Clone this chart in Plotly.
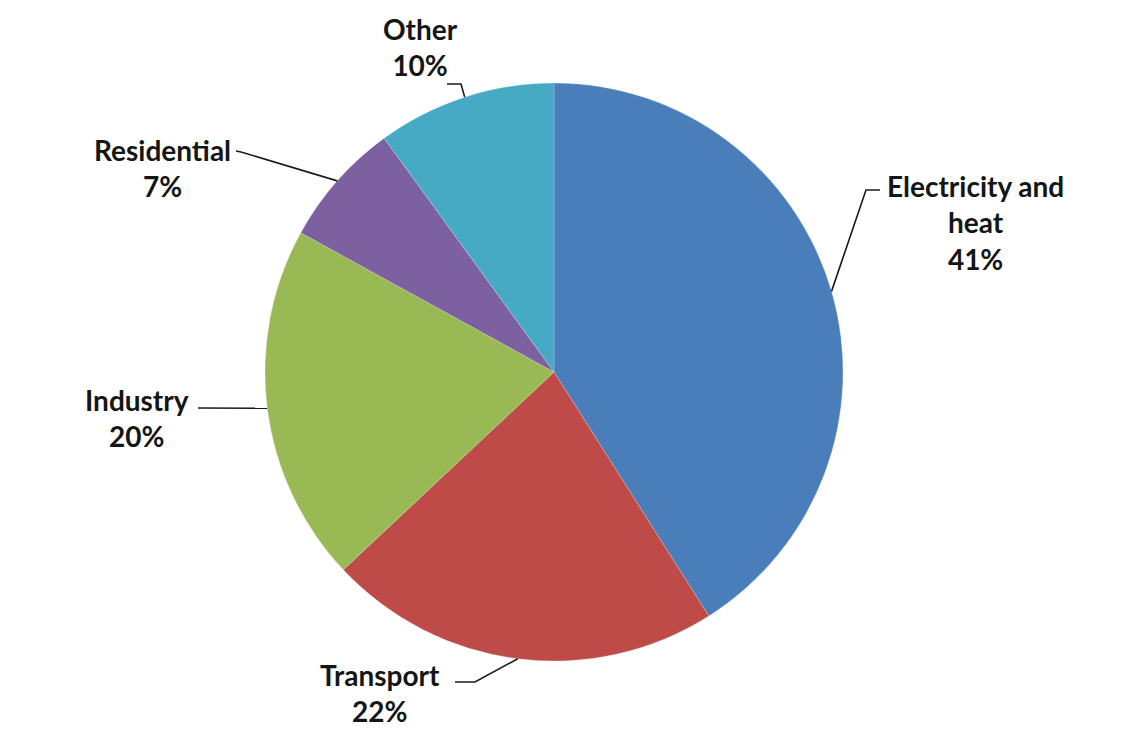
import math
import plotly.graph_objects as go

# ---- data ----
categories = ["Electricity and heat", "Transport", "Industry", "Residential", "Other"]
values = [41, 22, 20, 7, 10]
label_texts = ["Electricity and<br>heat<br>41%", "Transport<br>22%", "Industry<br>20%",
               "Residential<br>7%", "Other<br>10%"]
colors = ["#4A7EBB", "#BE4B48", "#98B954", "#7D60A0", "#46AAC5"]

# ---- layout (pixels in the screenshot) ----
W, H = 1140, 731
OFF = 8  # page body margin
CX, CY, R = 554, 372, 289
label_pos = [(975, 222), (380, 693), (137, 418), (162, 168), (420, 47)]
leader_start = [[(880, 190), (866, 190)], [(455, 682), (475, 682)], [(198, 408)],
                [(236, 151), (241, 152)], [(447, 84), (461, 84)]]


def px(x, y):
    return (x - OFF) / W, 1 - (y - OFF) / H


fig = go.Figure(go.Pie(
    labels=categories, values=values, sort=False, direction="clockwise", rotation=0,
    marker=dict(colors=colors, line=dict(color="rgba(255,255,255,0.4)", width=0.5)),
    textinfo="none", hoverinfo="label+percent", showlegend=False,
    domain=dict(x=[(CX - OFF - R) / W, (CX - OFF + R) / W],
                y=[(H - (CY - OFF) - R) / H, (H - (CY - OFF) + R) / H]),
))

total = sum(values)
cum = 0
shapes = []
annotations = []
for i, v in enumerate(values):
    mid = (cum + v / 2) / total * 2 * math.pi
    cum += v
    ex, ey = CX + R * math.sin(mid), CY - R * math.cos(mid)
    pts = leader_start[i] + [(ex, ey)]
    path = "M " + " L ".join("{:.5f},{:.5f}".format(*px(x, y)) for x, y in pts)
    shapes.append(dict(type="path", path=path, xref="paper", yref="paper",
                       line=dict(color="#1a1a1a", width=1.6)))
    lx, ly = px(*label_pos[i])
    annotations.append(dict(text=label_texts[i], x=lx, y=ly, xref="paper", yref="paper",
                            xanchor="center", yanchor="middle", showarrow=False,
                            align="center",
                            font=dict(family="Lato", size=28, color="#151515", weight="bold")))

fig.update_layout(width=W, height=H, margin=dict(l=0, r=0, t=0, b=0),
                  paper_bgcolor="white", plot_bgcolor="white",
                  shapes=shapes, annotations=annotations)
fig.write_html("out.html")
